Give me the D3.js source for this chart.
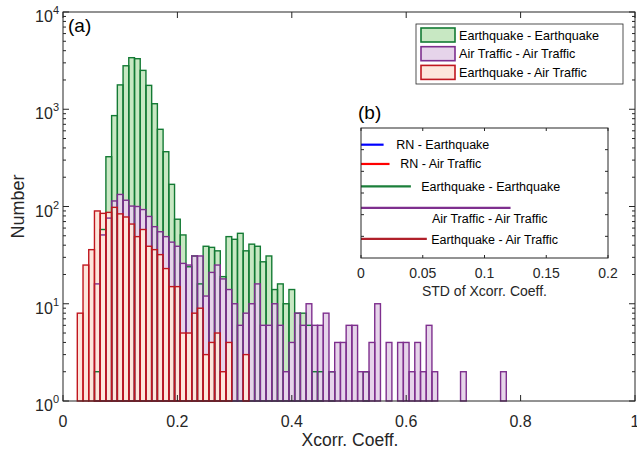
<!DOCTYPE html>
<html>
<head>
<meta charset="utf-8">
<script src="https://cdn.jsdelivr.net/npm/d3@7"></script>
<style>
  body { margin: 0; background: #fff; }
  svg { display: block; font-family: "Liberation Sans", Arial, sans-serif; }
</style>
</head>
<body>
<svg id="chart" width="637" height="454"></svg>
<script>
// histogram bins: width 0.01, first bin centred on 0.01
var binWidth = 0.01;
var firstCenter = 0.01;

var eqEq = [0, 0, 0, 0, 0, 2, 58, 325, 860, 1780,
    2800, 3390, 3310, 2510, 1760, 1140, 622, 366, 169, 74,
    51, 24, 31, 16, 39, 38, 35, 19, 49, 46,
    53, 35, 41, 39, 27, 31, 14, 16, 10, 14,
    8, 8, 6, 2, 2, 0, 2, 0, 0, 0,
    0, 0, 2];
var atAt = [0, 0, 0, 0, 0, 16, 51, 76, 114, 133,
    116, 101, 100, 93, 79, 62, 55, 49, 43, 39,
    26, 25, 31, 31, 12, 21, 25, 18, 14, 10,
    6, 8, 10, 16, 6, 6, 10, 6, 2, 4,
    8, 6, 10, 6, 6, 8, 2, 4, 4, 6,
    6, 2, 2, 4, 10, 0, 4, 0, 4, 4,
    2, 4, 2, 6, 2, 0, 0, 0, 0, 2,
    0, 0, 0, 0, 0, 0, 2];
var eqAt = [0, 0, 8, 25, 36, 90, 85, 87, 98, 84,
    78, 66, 49, 58, 39, 36, 32, 23, 15, 15,
    5, 5, 8, 9, 3, 4, 5, 2, 4, 0,
    0, 3];

var seriesNames = ["Earthquake - Earthquake", "Air Traffic - Air Traffic", "Earthquake - Air Traffic"];
var seriesEdge = ["#137a34", "#7e2f8e", "#c0161e"];
var seriesFill = ["#c8e8c3", "#e6d4ea", "#fde5db"];

var xTicks = [0, 0.2, 0.4, 0.6, 0.8, 1];
var yTicks = [1, 10, 100, 1000, 10000];

// inset (b)
var stdNames = ["RN - Earthquake", "RN - Air Traffic", "Earthquake - Earthquake",
    "Air Traffic - Air Traffic", "Earthquake - Air Traffic"];
var stdValues = [0.0183, 0.0231, 0.0404, 0.1211, 0.0533];
var stdRows = [0.77, 1.66, 2.69, 3.69, 5.12];
var stdLabelX = [0.0285, 0.0318, 0.0487, 0.0574, 0.0568];
var stdLabelRow = [0.77, 1.66, 2.69, 4.18, 5.15];
var stdColors = ["#0000ff", "#ff0000", "#1b7f3a", "#7e2f8e", "#b0202a"];
var stdTicks = [0, 0.05, 0.1, 0.15, 0.2];
var stdRowTicks = [1, 2, 3, 4, 5];

var axisColor = "#262626";
var svg = d3.select("#chart");

var plot = {left: 63, top: 12, right: 635, bottom: 401};
var x = d3.scaleLinear().domain([0, 1]).range([plot.left, plot.right]);
var y = d3.scaleLog().domain([1, 10000]).range([plot.bottom, plot.top]);

function bins(counts) {
    return counts.map(function (c, i) {
        var center = firstCenter + i * binWidth;
        return {x0: center - binWidth / 2, x1: center + binWidth / 2, n: c};
    }).filter(function (d) { return d.n > 0; });
}

var allSeries = [eqEq, atAt, eqAt].map(bins);

// fills first, edges afterwards so every outline stays visible
var fills = svg.append("g");
var edges = svg.append("g");
allSeries.forEach(function (data, s) {
    fills.selectAll(null)
        .data(data)
        .enter()
        .append("rect")
        .attr("x", d => x(d.x0))
        .attr("width", d => x(d.x1) - x(d.x0))
        .attr("y", d => y(d.n))
        .attr("height", d => y(1) - y(d.n))
        .attr("fill", seriesFill[s]);
    edges.selectAll(null)
        .data(data)
        .enter()
        .append("rect")
        .attr("x", d => x(d.x0))
        .attr("width", d => x(d.x1) - x(d.x0))
        .attr("y", d => y(d.n))
        .attr("height", d => y(1) - y(d.n))
        .attr("fill", "none")
        .attr("stroke", seriesEdge[s])
        .attr("stroke-width", 1.4);
});

// frame and ticks
svg.append("rect")
    .attr("x", plot.left).attr("y", plot.top)
    .attr("width", plot.right - plot.left).attr("height", plot.bottom - plot.top)
    .attr("fill", "none").attr("stroke", axisColor).attr("stroke-width", 1);

var tickG = svg.append("g").attr("stroke", axisColor).attr("stroke-width", 1);
xTicks.forEach(function (t) {
    tickG.append("line").attr("x1", x(t)).attr("x2", x(t))
        .attr("y1", plot.bottom).attr("y2", plot.bottom - 6);
    tickG.append("line").attr("x1", x(t)).attr("x2", x(t))
        .attr("y1", plot.top).attr("y2", plot.top + 6);
});
var yMinor = y.ticks();
yMinor.forEach(function (t) {
    var major = yTicks.indexOf(t) >= 0;
    var len = major ? 6 : 3;
    tickG.append("line").attr("x1", plot.left).attr("x2", plot.left + len)
        .attr("y1", y(t)).attr("y2", y(t));
    tickG.append("line").attr("x1", plot.right).attr("x2", plot.right - len)
        .attr("y1", y(t)).attr("y2", y(t));
});

svg.append("g").selectAll("text")
    .data(xTicks)
    .enter()
    .append("text")
    .attr("x", d => x(d))
    .attr("y", 427)
    .attr("text-anchor", "middle")
    .attr("fill", axisColor)
    .style("font-size", "16px")
    .text(d => d3.format("~g")(d));

var yLab = svg.append("g").selectAll("text")
    .data(yTicks)
    .enter()
    .append("text")
    .attr("x", 59)
    .attr("y", d => y(d) + 10)
    .attr("text-anchor", "end")
    .attr("fill", axisColor)
    .style("font-size", "16px");
yLab.append("tspan").text("10");
yLab.append("tspan")
    .attr("dy", -8)
    .style("font-size", "11px")
    .text(d => Math.round(Math.log10(d)));

svg.append("text")
    .attr("x", (plot.left + plot.right) / 2 + 1)
    .attr("y", 446)
    .attr("text-anchor", "middle")
    .attr("fill", axisColor)
    .style("font-size", "17.5px")
    .text("Xcorr. Coeff.");

svg.append("text")
    .attr("transform", "translate(24," + ((plot.top + plot.bottom) / 2) + ") rotate(-90)")
    .attr("text-anchor", "middle")
    .attr("fill", axisColor)
    .style("font-size", "18px")
    .text("Number");

svg.append("text")
    .attr("x", 68).attr("y", 32)
    .attr("fill", "#000")
    .style("font-size", "19px")
    .text("(a)");

// legend
var legend = svg.append("g").attr("transform", "translate(416,24)");
legend.append("rect")
    .attr("width", 207).attr("height", 60)
    .attr("fill", "#fff").attr("stroke", axisColor).attr("stroke-width", 0.8);
var entry = legend.selectAll("g.entry")
    .data(seriesNames)
    .enter()
    .append("g")
    .attr("class", "entry")
    .attr("transform", (d, i) => "translate(0," + (i * 18.7) + ")");
entry.append("rect")
    .attr("x", 5).attr("y", 4)
    .attr("width", 34).attr("height", 14)
    .attr("fill", (d, i) => seriesFill[i])
    .attr("stroke", (d, i) => seriesEdge[i])
    .attr("stroke-width", 1.6);
entry.append("text")
    .attr("x", 43).attr("y", 15.5)
    .attr("fill", "#000")
    .style("font-size", "12.6px")
    .text(d => d);

// inset (b)
var box = {left: 361, top: 128, right: 608, bottom: 258};
var sx = d3.scaleLinear().domain([0, 0.2]).range([box.left, box.right]);
var sy = d3.scaleLinear().domain([0, 6]).range([box.top, box.bottom]);

svg.append("rect")
    .attr("x", box.left).attr("y", box.top)
    .attr("width", box.right - box.left).attr("height", box.bottom - box.top)
    .attr("fill", "#fff");

var inset = svg.append("g");
inset.selectAll("line.std")
    .data(stdValues)
    .enter()
    .append("line")
    .attr("class", "std")
    .attr("x1", sx(0))
    .attr("x2", d => sx(d))
    .attr("y1", (d, i) => sy(stdRows[i]))
    .attr("y2", (d, i) => sy(stdRows[i]))
    .attr("stroke", (d, i) => stdColors[i])
    .attr("stroke-width", 2.2);
inset.selectAll("text.stdLabel")
    .data(stdNames)
    .enter()
    .append("text")
    .attr("class", "stdLabel")
    .attr("x", (d, i) => sx(stdLabelX[i]))
    .attr("y", (d, i) => sy(stdLabelRow[i]) + 4.5)
    .attr("fill", "#000")
    .style("font-size", "12.5px")
    .text(d => d);

inset.append("rect")
    .attr("x", box.left).attr("y", box.top)
    .attr("width", box.right - box.left).attr("height", box.bottom - box.top)
    .attr("fill", "none").attr("stroke", axisColor).attr("stroke-width", 1);
var insetTicks = inset.append("g").attr("stroke", axisColor).attr("stroke-width", 1);
stdTicks.forEach(function (t) {
    insetTicks.append("line").attr("x1", sx(t)).attr("x2", sx(t))
        .attr("y1", box.bottom).attr("y2", box.bottom - 3);
    insetTicks.append("line").attr("x1", sx(t)).attr("x2", sx(t))
        .attr("y1", box.top).attr("y2", box.top + 3);
});
stdRowTicks.forEach(function (t) {
    insetTicks.append("line").attr("x1", box.left).attr("x2", box.left + 3)
        .attr("y1", sy(t)).attr("y2", sy(t));
    insetTicks.append("line").attr("x1", box.right).attr("x2", box.right - 3)
        .attr("y1", sy(t)).attr("y2", sy(t));
});
inset.selectAll("text.stdTick")
    .data(stdTicks)
    .enter()
    .append("text")
    .attr("class", "stdTick")
    .attr("x", d => sx(d))
    .attr("y", 278)
    .attr("text-anchor", "middle")
    .attr("fill", axisColor)
    .style("font-size", "14px")
    .text(d => d3.format("~g")(d));
inset.append("text")
    .attr("x", (box.left + box.right) / 2)
    .attr("y", 296)
    .attr("text-anchor", "middle")
    .attr("fill", axisColor)
    .style("font-size", "14px")
    .text("STD of Xcorr. Coeff.");
inset.append("text")
    .attr("x", 358).attr("y", 119)
    .attr("fill", "#000")
    .style("font-size", "19px")
    .text("(b)");
</script>
</body>
</html>
